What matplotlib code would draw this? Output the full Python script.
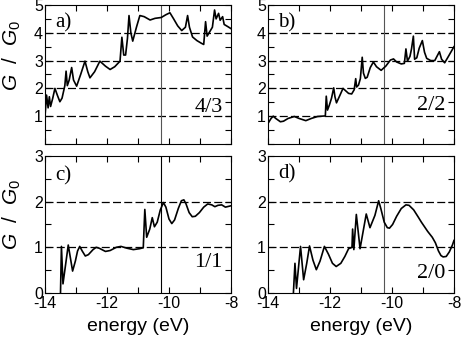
import matplotlib
matplotlib.use("Agg")
import matplotlib.pyplot as plt
from matplotlib.ticker import MultipleLocator, FixedLocator

plt.rcParams['font.family'] = ['Liberation Sans', 'DejaVu Sans']
plt.rcParams['mathtext.fontset'] = 'custom'
plt.rcParams['mathtext.it'] = 'Liberation Sans:italic'
plt.rcParams['mathtext.rm'] = 'Liberation Sans'
plt.rcParams['axes.unicode_minus'] = False

# conductance traces: energy (eV) and G/G0
energy_a = [-14.00, -13.95, -13.90, -13.86, -13.82, -13.75, -13.68, -13.60, -13.52, -13.45,
            -13.36, -13.32, -13.28, -13.22, -13.14, -13.08, -12.98, -12.85, -12.71, -12.62,
            -12.55, -12.40, -12.23, -12.05, -11.90, -11.75, -11.58, -11.52, -11.46, -11.40,
            -11.34, -11.29, -11.23, -11.17, -11.05, -10.94, -10.80, -10.61, -10.45, -10.25,
            -10.10, -9.97, -9.85, -9.72, -9.59, -9.47, -9.40, -9.34, -9.24, -9.10,
            -8.95, -8.88, -8.82, -8.77, -8.68, -8.60, -8.53, -8.48, -8.40, -8.35,
            -8.27, -8.22, -8.10, -8.00]
cond_a = [1.00, 1.76, 1.30, 1.70, 1.35, 1.65, 2.00, 1.75, 1.52, 1.65,
          2.10, 2.62, 2.10, 2.30, 2.75, 2.30, 2.08, 2.50, 2.98, 2.60,
          2.38, 2.60, 2.98, 2.80, 2.68, 2.78, 2.98, 3.84, 3.20, 3.20,
          3.80, 4.62, 4.00, 3.70, 4.20, 4.62, 4.58, 4.46, 4.52, 4.55,
          4.65, 4.72, 4.50, 4.25, 4.08, 4.20, 4.62, 4.20, 3.85, 3.72,
          3.62, 3.58, 4.40, 3.88, 4.05, 4.20, 4.82, 4.50, 4.70, 4.45,
          4.58, 4.30, 4.22, 4.15]

energy_b = [-14.00, -13.90, -13.83, -13.75, -13.60, -13.50, -13.35, -13.15, -13.00, -12.78,
            -12.60, -12.40, -12.15, -12.12, -12.08, -12.02, -11.95, -11.88, -11.84, -11.79,
            -11.68, -11.58, -11.48, -11.40, -11.30, -11.22, -11.17, -11.14, -11.08, -11.02,
            -10.96, -10.92, -10.86, -10.80, -10.70, -10.60, -10.50, -10.35, -10.20, -10.05,
            -9.95, -9.85, -9.70, -9.60, -9.55, -9.50, -9.42, -9.37, -9.31, -9.27,
            -9.20, -9.12, -9.02, -8.95, -8.88, -8.75, -8.62, -8.55, -8.47, -8.40,
            -8.30, -8.18, -8.00]
cond_b = [0.74, 0.92, 1.00, 0.92, 0.80, 0.82, 0.92, 0.99, 0.92, 0.84,
          0.92, 0.99, 1.01, 1.72, 1.22, 1.40, 1.65, 2.02, 1.70, 1.48,
          1.75, 2.00, 1.90, 1.82, 1.80, 1.95, 2.35, 2.05, 2.12, 2.35,
          3.12, 2.55, 2.36, 2.40, 2.75, 2.95, 2.78, 2.65, 2.80, 3.02,
          3.06, 2.95, 2.88, 2.90, 3.42, 2.98, 3.15, 3.42, 3.88, 3.05,
          3.10, 3.45, 3.72, 3.30, 3.08, 3.00, 3.00, 3.15, 3.32, 3.05,
          2.92, 3.15, 3.50]

energy_c = [-13.50, -13.47, -13.42, -13.25, -13.11, -13.02, -12.95, -12.88, -12.80, -12.70,
            -12.60, -12.45, -12.35, -12.25, -12.05, -11.90, -11.70, -11.55, -11.35, -11.15,
            -10.95, -10.83, -10.78, -10.72, -10.62, -10.54, -10.47, -10.38, -10.28, -10.18,
            -10.10, -10.00, -9.91, -9.82, -9.70, -9.60, -9.52, -9.45, -9.35, -9.25,
            -9.15, -9.02, -8.88, -8.75, -8.62, -8.52, -8.42, -8.30, -8.18, -8.00]
cond_c = [0.00, 1.02, 0.20, 1.05, 0.48, 0.70, 0.92, 1.02, 0.92, 0.81,
          0.84, 0.95, 1.00, 0.98, 0.91, 0.93, 1.00, 1.02, 0.98, 0.95,
          0.97, 0.99, 1.83, 1.22, 1.40, 1.65, 1.45, 1.55, 1.82, 1.98,
          1.88, 1.62, 1.52, 1.60, 1.85, 2.02, 2.04, 1.95, 1.76, 1.67,
          1.68, 1.76, 1.88, 1.95, 1.93, 1.89, 1.92, 1.93, 1.88, 1.91]

energy_d = [-13.18, -13.13, -13.08, -12.95, -12.85, -12.75, -12.66, -12.55, -12.44, -12.32,
            -12.18, -12.05, -11.92, -11.80, -11.65, -11.52, -11.40, -11.29, -11.27, -11.23,
            -11.15, -11.03, -10.83, -10.71, -10.55, -10.43, -10.36, -10.25, -10.15, -10.08,
            -9.98, -9.85, -9.70, -9.55, -9.45, -9.30, -9.15, -9.05, -8.95, -8.85,
            -8.70, -8.60, -8.50, -8.42, -8.35, -8.25, -8.15, -8.05, -8.00]
cond_d = [0.00, 0.65, 0.10, 1.02, 0.29, 0.65, 1.03, 0.72, 0.51, 0.70,
          1.02, 0.85, 0.65, 0.58, 0.65, 0.80, 0.97, 1.00, 1.40, 0.95,
          1.72, 0.97, 1.73, 1.43, 1.70, 2.02, 1.85, 1.55, 1.43, 1.42,
          1.50, 1.68, 1.85, 1.93, 1.92, 1.82, 1.66, 1.55, 1.45, 1.35,
          1.22, 1.10, 0.92, 0.82, 0.79, 0.80, 0.90, 1.05, 1.15]

panel_tags = ['a)', 'b)', 'c)', 'd)']
structures = ['4/3', '2/2', '1/1', '2/0']
fermi_level = -10.25

fig = plt.figure(figsize=(4.63, 3.37), dpi=100)

boxes = [
    [0.0972, 0.5727, 0.4017, 0.4125],
    [0.5788, 0.5727, 0.4017, 0.4125],
    [0.0972, 0.1306, 0.4017, 0.4065],
    [0.5788, 0.1306, 0.4017, 0.4065],
]
traces = [(energy_a, cond_a), (energy_b, cond_b), (energy_c, cond_c), (energy_d, cond_d)]
tag_y = [0.87, 0.87, 0.854, 0.872]
struct_y = [0.23, 0.245, 0.19, 0.11]

for i, box in enumerate(boxes):
    ax = fig.add_axes(box)
    top = 5 if i < 2 else 3
    ax.set_xlim(-14, -8)
    ax.set_ylim(0, top)

    # quantised plateaus and the Fermi level
    for level in range(1, top if i < 2 else 3):
        ax.axhline(level, color='black', lw=0.9, ls=(0, (6.4, 2.6)), zorder=1)
    ax.axvline(fermi_level, color='black' if i == 2 else '#555555', lw=0.8, zorder=1)

    x, y = traces[i]
    ax.plot(x, y, color='black', lw=1.2, zorder=3)

    ax.xaxis.set_major_locator(MultipleLocator(2))
    ax.xaxis.set_minor_locator(MultipleLocator(1))
    if i < 2:
        ax.yaxis.set_major_locator(FixedLocator([1, 2, 3, 4, 5]))
    else:
        ax.yaxis.set_major_locator(FixedLocator([0, 1, 2, 3]))
    ax.yaxis.set_minor_locator(MultipleLocator(0.5))
    ax.tick_params(which='both', direction='in', top=True, right=True,
                   length=4, width=0.8, labelsize=11.5)
    ax.tick_params(axis='x', pad=2)
    ax.tick_params(axis='y', pad=1.5)
    for s in ax.spines.values():
        s.set_linewidth(0.8)

    if i < 2:
        ax.set_xticklabels([])
    else:
        ax.set_xlabel('energy (eV)', fontsize=14, labelpad=5)

    if i % 2 == 0:
        ax.set_ylabel(r'$G\ \ /\ \ G_0$', fontsize=15)
        ax.yaxis.label.set(ha='center', va='center', rotation_mode='default')
        ax.yaxis.set_label_coords(-0.177, 0.64 if i == 0 else 0.57)

    ax.text(0.054, tag_y[i], panel_tags[i], transform=ax.transAxes,
            family='Liberation Serif', fontsize=15, ha='left', va='center')
    ax.text(0.955, struct_y[i], structures[i], transform=ax.transAxes,
            family='Liberation Serif', fontsize=16, ha='right', va='baseline')

fig.savefig('out.png', dpi=100)
